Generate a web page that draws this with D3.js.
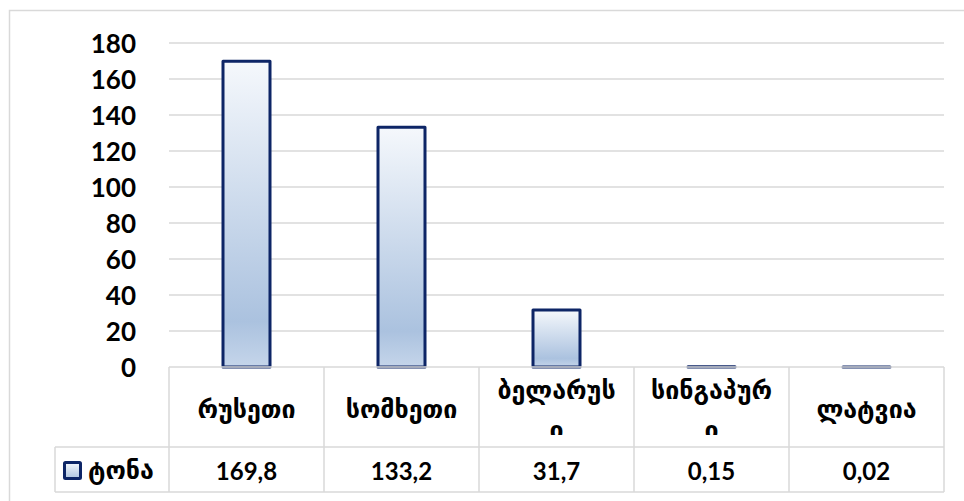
<!DOCTYPE html>
<html>
<head>
<meta charset="utf-8">
<script src="https://cdn.jsdelivr.net/npm/d3@7"></script>
<style>
  html, body { margin: 0; padding: 0; background: #fff; }
  svg { display: block; }
</style>
</head>
<body>
<svg id="chart" width="964" height="501"></svg>
<script>
// Categories (countries) and tonnage values
const categories = ["რუსეთი", "სომხეთი", "ბელარუსი", "სინგაპური", "ლატვია"];
// Wrapped label lines as shown in the data table
const categoryLines = [["რუსეთი"], ["სომხეთი"], ["ბელარუს", "ი"], ["სინგაპურ", "ი"], ["ლატვია"]];
const values = [169.8, 133.2, 31.7, 0.15, 0.02];
const valueLabels = ["169,8", "133,2", "31,7", "0,15", "0,02"];
const seriesName = "ტონა";
const yTicks = [0, 20, 40, 60, 80, 100, 120, 140, 160, 180];

const svg = d3.select("#chart");
const W = 964, H = 501;

const plot = { left: 169, right: 944, top: 43, bottom: 367 };
const table = { legendLeft: 55, row1Bottom: 447, row2Bottom: 492 };

const numFont = "Lato, 'Open Sans', sans-serif";
const geoFont = "'DejaVu Sans', sans-serif";
const gridColor = "#d9d9d9";
const barStroke = "#0d2566";

// Outer chart frame
svg.append("rect")
  .attr("x", 9.5).attr("y", 10.5)
  .attr("width", W).attr("height", H)
  .attr("fill", "none").attr("stroke", gridColor).attr("stroke-width", 1.5);

const x = d3.scaleBand().domain(categories).range([plot.left, plot.right]).paddingInner(0).paddingOuter(0);
const y = d3.scaleLinear().domain([0, 180]).range([plot.bottom, plot.top]);

// Bar gradient
const defs = svg.append("defs");
const grad = defs.append("linearGradient").attr("id", "barGrad")
  .attr("x1", 0).attr("y1", 0).attr("x2", 0).attr("y2", 1);
grad.append("stop").attr("offset", "0%").attr("stop-color", "#f5f8fc");
grad.append("stop").attr("offset", "85%").attr("stop-color", "#abc2df");
grad.append("stop").attr("offset", "100%").attr("stop-color", "#c5d5ea");

const legGrad = defs.append("linearGradient").attr("id", "legGrad")
  .attr("x1", 0).attr("y1", 0).attr("x2", 0).attr("y2", 1);
legGrad.append("stop").attr("offset", "0%").attr("stop-color", "#f5f8fc");
legGrad.append("stop").attr("offset", "100%").attr("stop-color", "#aec4e0");

// Horizontal gridlines
svg.append("g")
  .selectAll("line")
  .data(yTicks.filter(d => d > 0))
  .join("line")
  .attr("x1", plot.left).attr("x2", plot.right)
  .attr("y1", d => y(d)).attr("y2", d => y(d))
  .attr("stroke", gridColor).attr("stroke-width", 1.5);

// Y axis labels
const yAxis = d3.axisLeft(y).tickValues(yTicks).tickSize(0).tickPadding(0).tickFormat(d3.format("d"));
const yg = svg.append("g").attr("transform", `translate(136,0)`).call(yAxis);
yg.select(".domain").remove();
yg.selectAll("text")
  .attr("font-family", numFont).attr("font-weight", 700)
  .attr("font-size", 26).attr("fill", "#000")
  .attr("dy", "0.36em");

// Bars
const barW = 50;
svg.append("g")
  .selectAll("rect")
  .data(values)
  .join("rect")
  .attr("x", (d, i) => x(categories[i]) + x.bandwidth() / 2 - barW / 2 + 1.5)
  .attr("y", d => y(d))
  .attr("width", barW - 3)
  .attr("height", d => y(0) - y(d))
  .attr("fill", "url(#barGrad)")
  .attr("stroke", barStroke).attr("stroke-width", 3)
  .attr("stroke-linejoin", "round");

// Data table grid
const tg = svg.append("g").attr("stroke", gridColor).attr("stroke-width", 1.5).attr("fill", "none");
// top line (category axis)
tg.append("line").attr("x1", plot.left).attr("x2", plot.right).attr("y1", plot.bottom).attr("y2", plot.bottom);
tg.append("line").attr("x1", table.legendLeft).attr("x2", plot.right).attr("y1", table.row1Bottom).attr("y2", table.row1Bottom);
tg.append("line").attr("x1", table.legendLeft).attr("x2", plot.right).attr("y1", table.row2Bottom).attr("y2", table.row2Bottom);
tg.append("line").attr("x1", table.legendLeft).attr("x2", table.legendLeft).attr("y1", table.row1Bottom).attr("y2", table.row2Bottom);
const bounds = categories.map(c => x(c)).concat([plot.right]);
tg.selectAll("line.v").data(bounds).join("line").attr("class", "v")
  .attr("x1", d => d).attr("x2", d => d)
  .attr("y1", plot.bottom).attr("y2", table.row2Bottom);

// Category labels (clipped inside their cells)
defs.append("clipPath").attr("id", "catClip")
  .append("rect").attr("x", plot.left).attr("y", plot.bottom).attr("width", plot.right - plot.left).attr("height", 68);

const cg = svg.append("g").attr("clip-path", "url(#catClip)");
categoryLines.forEach((lines, i) => {
  const cx = x(categories[i]) + x.bandwidth() / 2;
  const lineH = 40;
  const y0 = lines.length === 1 ? 409 : 390;
  lines.forEach((t, k) => {
    cg.append("text")
      .attr("x", cx).attr("y", y0 + k * lineH)
      .attr("text-anchor", "middle").attr("dominant-baseline", "central")
      .attr("font-family", geoFont).attr("font-weight", 700)
      .attr("font-size", 25).attr("fill", "#000")
      .text(t);
  });
});

// Value row
svg.append("g")
  .selectAll("text")
  .data(valueLabels)
  .join("text")
  .attr("x", (d, i) => x(categories[i]) + x.bandwidth() / 2)
  .attr("y", 470)
  .attr("text-anchor", "middle").attr("dominant-baseline", "central")
  .attr("font-family", numFont).attr("font-weight", 700)
  .attr("font-size", 24).attr("fill", "#000")
  .text(d => d);

// Legend key and series name
svg.append("rect")
  .attr("x", 64.5).attr("y", 462.5).attr("width", 16).attr("height", 16)
  .attr("fill", "url(#legGrad)").attr("stroke", barStroke).attr("stroke-width", 3).attr("rx", 1);
svg.append("text")
  .attr("x", 88).attr("y", 470)
  .attr("dominant-baseline", "central")
  .attr("font-family", geoFont).attr("font-weight", 700)
  .attr("font-size", 25).attr("fill", "#000")
  .text(seriesName);
</script>
</body>
</html>
